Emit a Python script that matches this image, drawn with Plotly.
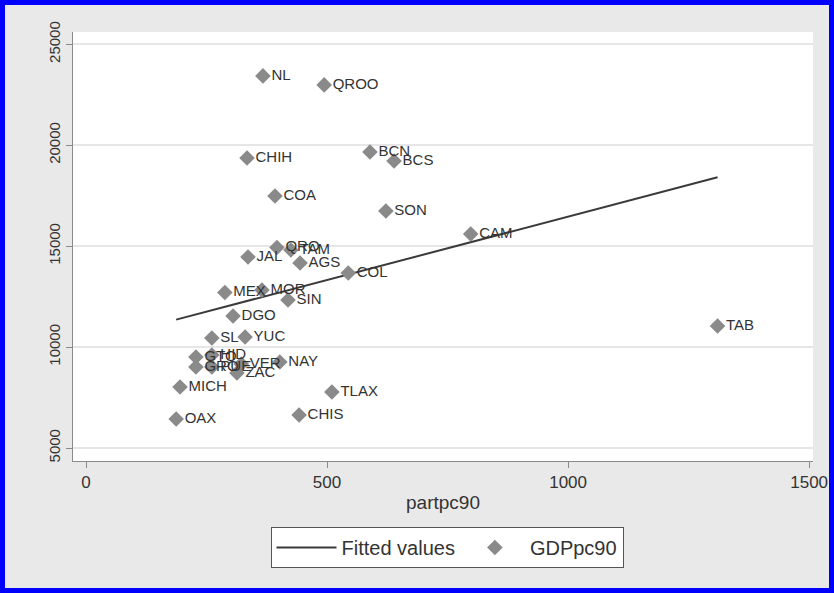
import plotly.graph_objects as go

# ---- data ----
states = ["NL", "QROO", "CHIH", "BCN", "BCS", "COA", "SON", "CAM", "TAB", "JAL",
          "QRO", "TAM", "AGS", "COL", "MEX", "MOR", "SIN", "DGO", "SL", "YUC",
          "HID", "GTO", "GRO", "PUE", "VER", "ZAC", "NAY", "MICH", "OAX", "TLAX", "CHIS"]
partpc90 = [367, 494, 334, 589, 639, 392, 622, 798, 1310, 336,
            396, 425, 444, 544, 288, 365, 419, 305, 261, 330,
            261, 228, 228, 261, 322, 313, 402, 195, 187, 510, 442]
gdppc90 = [23434, 22988, 19371, 19668, 19222, 17488, 16744, 15605, 11046, 14465,
           14935, 14812, 14168, 13672, 12706, 12830, 12334, 11541, 10451, 10500,
           9608, 9509, 9014, 9014, 9163, 8717, 9262, 8023, 6437, 7775, 6635]

fit_x = [187, 1310]
fit_y = [11360, 18410]

x_ticks = [0, 500, 1000, 1500]
y_ticks = [5000, 10000, 15000, 20000, 25000]

# ---- layout geometry (pixels) ----
W, H = 834, 593
L, R, T, B = 73, 813, 32, 461
PW, PH = R - L, B - T


def px(x):
    return (x - L) / PW


def py(y):
    return (B - y) / PH


FONT = "Liberation Sans, Arial, sans-serif"

fig = go.Figure()
fig.add_trace(go.Scatter(
    x=fit_x, y=fit_y, mode="lines", name="Fitted values",
    line=dict(color="#3a3a3a", width=2),
))
fig.add_trace(go.Scatter(
    x=partpc90, y=gdppc90, mode="markers", name="GDPpc90",
    marker=dict(symbol="diamond", size=12, color="#8a8a8a", line=dict(width=0)),
))
fig.add_trace(go.Scatter(
    x=partpc90, y=gdppc90, mode="markers+text", text=states, showlegend=False,
    textposition="middle right",
    marker=dict(size=12, opacity=0),
    textfont=dict(family=FONT, size=15, color="#333333"),
    hoverinfo="skip",
))

fig.update_xaxes(
    range=[-27, 1508], tickvals=x_ticks, ticktext=[str(v) for v in x_ticks],
    showgrid=False, zeroline=False, showline=True, linecolor="#8a8a8a", linewidth=1,
    ticks="outside", ticklen=6, tickcolor="#8a8a8a",
    tickfont=dict(family=FONT, size=17, color="#333333"),
    title=dict(text="partpc90", font=dict(family=FONT, size=19, color="#333333"), standoff=4),
    automargin=False,
)
fig.update_yaxes(
    range=[4356, 25610], tickvals=y_ticks, ticktext=[str(v) for v in y_ticks],
    showgrid=True, gridcolor="#e6e6e6", gridwidth=1.5, zeroline=False,
    showline=True, linecolor="#8a8a8a", linewidth=1,
    ticks="outside", ticklen=6, tickcolor="#8a8a8a", tickangle=-90,
    tickfont=dict(family=FONT, size=15, color="#333333"),
    automargin=False,
)

fig.update_layout(
    width=W, height=H, autosize=False,
    margin=dict(l=L, r=W - R, t=T, b=H - B, pad=0, autoexpand=False),
    paper_bgcolor="#e9e9e9", plot_bgcolor="#ffffff",
    showlegend=True,
    legend=dict(
        orientation="h", x=px(447), xanchor="center", y=py(527), yanchor="top",
        bgcolor="#ffffff", bordercolor="#555555", borderwidth=1,
        font=dict(family=FONT, size=20, color="#333333"),
        itemwidth=60, entrywidth=0,
    ),
    shapes=[dict(
        type="rect", xref="paper", yref="paper", layer="above",
        x0=px(2.5), x1=px(831.5), y0=py(2.5), y1=py(590.5),
        line=dict(color="#0000ff", width=5), fillcolor="rgba(0,0,0,0)",
    )],
)

fig.write_html(
    "out.html",
    config={"displayModeBar": False},
    post_script="document.body.style.margin='0';document.body.style.padding='0';",
)
